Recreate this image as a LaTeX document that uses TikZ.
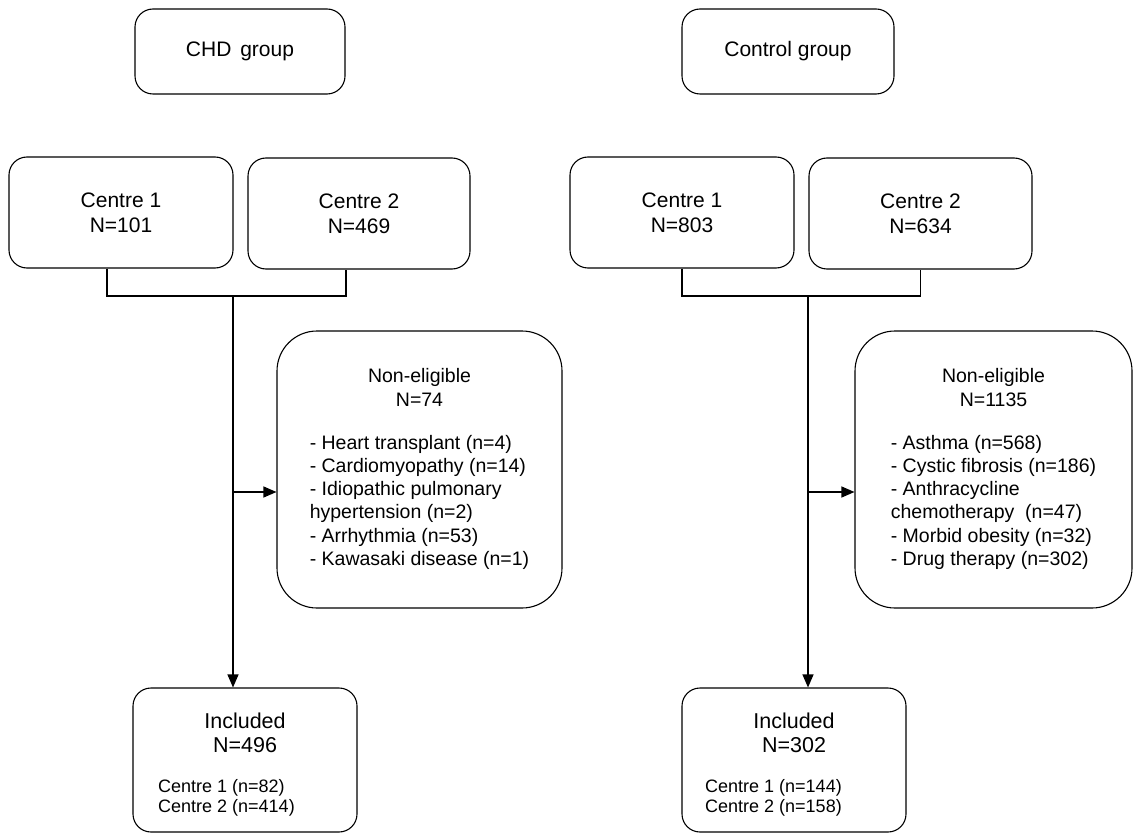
\documentclass[tikz,border=0pt]{standalone}
\usepackage{fontspec}
\setmainfont{Liberation Sans}
\usetikzlibrary{arrows.meta,positioning}
\newcommand{\ctrline}[1]{\multicolumn{1}{@{}c@{}}{#1}}

\begin{document}
\begin{tikzpicture}[x=1pt, y=-1pt,
  box/.style = {draw, line width=1.1pt, rounded corners=18pt, align=center, inner sep=0pt, font=\fontsize{21}{25}\selectfont},
  bigbox/.style = {box, rounded corners=40pt, font=\fontsize{19.5}{23.2}\selectfont},
  txt/.style = {inner sep=0pt, align=center, font=\fontsize{21.5}{24}\selectfont},
  small/.style = {inner sep=0pt, align=left, font=\fontsize{18}{20}\selectfont},
  link/.style = {line width=1.1pt},
  arr/.style = {link, -{Triangle[length=13pt, width=11pt]}}]

\useasboundingbox (0,0) rectangle (1134,834);

% CHD side
\node[box, minimum width=210pt, minimum height=85pt] (chd) at (240,51.5) {CHD\hspace{3pt} group};
\node[box, minimum width=224pt, minimum height=111pt] (c1L) at (121,212.5) {Centre 1\\N=101};
\node[box, minimum width=222pt, minimum height=111pt] (c2L) at (359,213.5) {Centre 2\\N=469};

\node[bigbox, minimum width=285pt, minimum height=277pt] (neL) at (419.5,469.5) {\begin{tabular}{@{}l@{}}
\ctrline{Non-eligible}\\ \ctrline{N=74}\\[20pt]
- Heart transplant (n=4)\\
- Cardiomyopathy (n=14)\\
- Idiopathic pulmonary\\
hypertension (n=2)\\
- Arrhythmia (n=53)\\
- Kawasaki disease (n=1)
\end{tabular}};

\node[box, minimum width=224pt, minimum height=144pt] (inclL) at (245,760) {};
\node[txt] (inclLtitle) at (245,733) {Included\\N=496};
\node[small, anchor=north west] (inclLlist) at (158,779) {Centre 1 (n=82)\\Centre 2 (n=414)};

\coordinate (jL) at (233,296);
\coordinate (aL) at (233,492);
\draw[link] ([xshift=-14pt]c1L.south) |- ([xshift=-13pt]c2L.south |- jL) -- ([xshift=-13pt]c2L.south);
\draw[arr] (jL) -- (jL |- inclL.north);
\draw[arr] (aL) -- (aL -| neL.west);

% Control side
\node[box, minimum width=212pt, minimum height=85pt] (ctrl) at (788,51.5) {Control group};
\node[box, minimum width=224pt, minimum height=111pt] (c1R) at (682,212.5) {Centre 1\\N=803};
\node[box, minimum width=223pt, minimum height=111pt] (c2R) at (920.5,213.5) {Centre 2\\N=634};

\node[bigbox, minimum width=277pt, minimum height=277pt] (neR) at (993.5,469.5) {\begin{tabular}{@{}l@{}}
\ctrline{Non-eligible}\\ \ctrline{N=1135}\\[20pt]
- Asthma (n=568)\\
- Cystic fibrosis (n=186)\\
- Anthracycline\\
chemotherapy\ \ (n=47)\\
- Morbid obesity (n=32)\\
- Drug therapy (n=302)
\end{tabular}};

\node[box, minimum width=224pt, minimum height=144pt] (inclR) at (794,760) {};
\node[txt] (inclRtitle) at (794,733) {Included\\N=302};
\node[small, anchor=north west] (inclRlist) at (705,779) {Centre 1 (n=144)\\Centre 2 (n=158)};

\coordinate (jR) at (808,296);
\coordinate (aR) at (808,492);
\draw[link] (c1R.south) |- (c2R.south |- jR) -- (c2R.south);
\draw[arr] (jR) -- (jR |- inclR.north);
\draw[arr] (aR) -- (aR -| neR.west);

\end{tikzpicture}
\end{document}
